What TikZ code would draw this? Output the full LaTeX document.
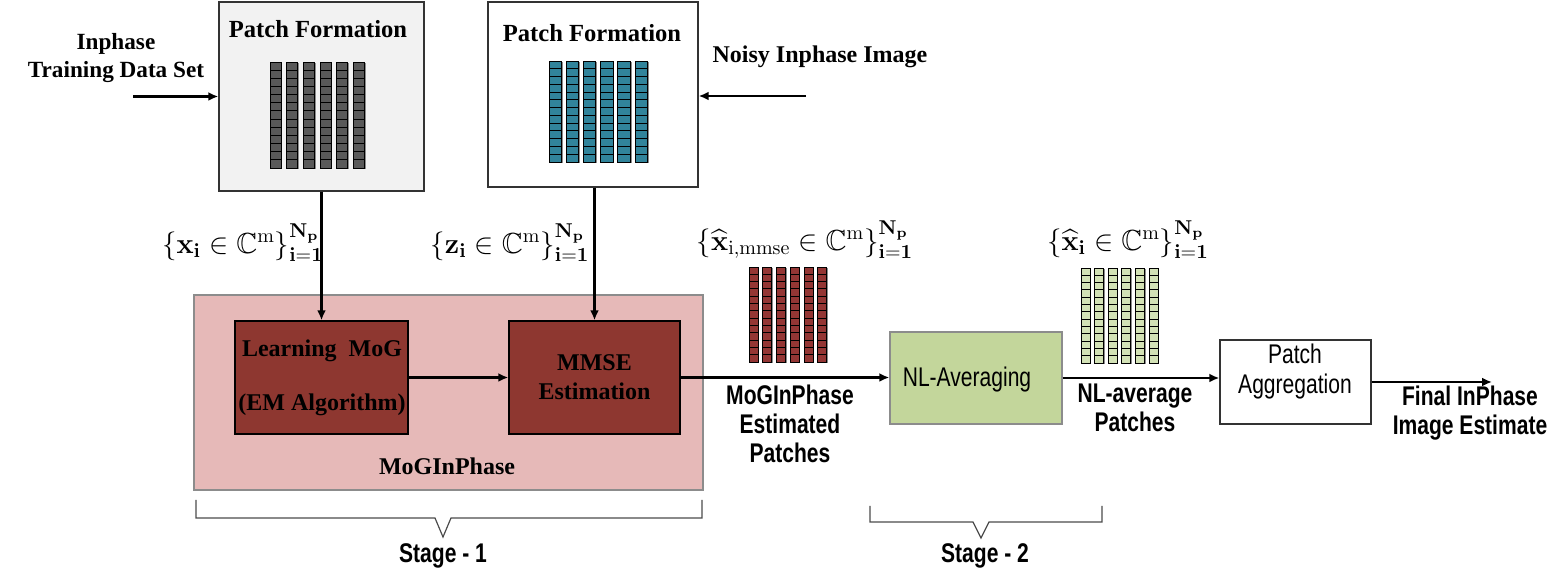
\documentclass[tikz,border=0pt]{standalone}
\usepackage{amsmath,amssymb}
\usepackage[no-math]{fontspec}
\setmainfont{Liberation Serif}
\newfontfamily\narrowfont[FakeStretch=0.78]{Liberation Sans}
\usetikzlibrary{arrows.meta}
\definecolor{boxgray}{HTML}{F2F2F2}
\definecolor{patchgray}{HTML}{595959}
\definecolor{patchteal}{HTML}{31849B}
\definecolor{pinkbg}{HTML}{E6B9B8}
\definecolor{darkred}{HTML}{8E3730}
\definecolor{patchred}{HTML}{943634}
\definecolor{nlgreen}{HTML}{C3D69B}
\definecolor{patchgreen}{HTML}{D3E2B6}
\newcommand{\patchcols}[7]{%
  \foreach \c in {0,...,5}{%
    \pgfmathsetmacro{\xa}{#1+\c*#4}%
    \pgfmathsetmacro{\xb}{\xa+#3}%
    \fill[black!45] (\xa+1.2,#2+1.2) rectangle (\xb+1.2,#2+#5+1.2);
    \draw[fill=#7,line width=0.45pt] (\xa,#2) rectangle (\xb,#2+#5);
    \foreach \r in {1,...,#6}{%
      \draw[line width=0.45pt] (\xa,{#2+\r*#5/(#6+1)}) -- (\xb,{#2+\r*#5/(#6+1)});
    }%
  }%
}
\begin{document}
\begin{tikzpicture}[x=0.5pt,y=-0.5pt,
  serif/.style={font=\fontsize{12}{14.5}\selectfont\bfseries, align=center, inner sep=0pt},
  narrow/.style={font=\fontsize{13.5}{14.5}\selectfont\narrowfont\bfseries, align=center, inner sep=0pt},
  narrowreg/.style={font=\fontsize{13.5}{14.5}\selectfont\narrowfont, align=center, inner sep=0pt},
  mathlab/.style={font=\fontsize{14.5}{16}\selectfont, inner sep=0pt},
  arr/.style={-{Latex[length=5pt,width=4.5pt]}, line width=1.1pt},
  boxd/.style={draw=black!80, line width=0.7pt, inner sep=0pt},
  bracestyle/.style={draw=black!70, line width=0.6pt}]
\useasboundingbox (0,0) rectangle (1565,582);

% Patch formation boxes
\node[boxd, fill=boxgray, minimum width=102.5pt, minimum height=94.5pt] (box1) at (321.5,96.5) {};
\node[boxd, fill=white, minimum width=105pt, minimum height=92.5pt] (box2) at (593,94.5) {};
\node[serif, font=\fontsize{12.3}{14.5}\selectfont\bfseries] (pf1) at (318,29) {Patch Formation};
\node[serif, font=\fontsize{12.3}{14.5}\selectfont\bfseries] (pf2) at (592,33) {Patch Formation};
\patchcols{270}{62}{11}{16.7}{106}{12}{patchgray}
\patchcols{549}{61}{12.5}{17.2}{101}{12}{patchteal}

% inputs
\node[serif, font=\fontsize{11.6}{14}\selectfont\bfseries] (intrain) at (116,58) {Inphase\\Training Data Set};
\coordinate (in1) at (133,96.5);
\draw[arr] (in1) -- (box1.west);
\node[serif] (noisy) at (820,57) {Noisy Inphase Image};
\coordinate (in2) at (806,96);
\draw[arr] (in2) -- (in2 -| box2.east);

% MoGInPhase block
\node[draw=black!45, line width=0.7pt, fill=pinkbg, minimum width=254.5pt, minimum height=97.5pt, inner sep=0pt] (mog) at (448.5,392.5) {};
\node[boxd, draw=black, fill=darkred, minimum width=86.5pt, minimum height=56.5pt] (learn) at (321.5,377.5) {};
\node[serif] (learnt1) at (322,351) {Learning\ \ MoG};
\node[serif] (learnt2) at (322,405) {(EM Algorithm)};
\node[boxd, draw=black, fill=darkred, minimum width=85.5pt, minimum height=56.5pt, serif] (mmse) at (594.5,377.5) {MMSE\\Estimation};
\node[serif] (mogt) at (447,466) {MoGInPhase};

\draw[arr] (learn.north |- box1.south) -- (learn.north);
\draw[arr] (mmse.north |- box2.south) -- (mmse.north);
\draw[arr] (learn.east) -- (mmse.west);

% labels
\node[mathlab] (lx) at (243,243) {$\left\{\mathbf{x}_{\mathbf{i}}\in\mathbb{C}^{\mathrm{m}}\right\}_{\mathbf{i=1}}^{\mathbf{N_p}}$};
\node[mathlab] (lz) at (510,243) {$\left\{\mathbf{z}_{\mathbf{i}}\in\mathbb{C}^{\mathrm{m}}\right\}_{\mathbf{i=1}}^{\mathbf{N_p}}$};
\node[mathlab] (lxm) at (805,240) {$\left\{\widehat{\mathbf{x}}_{\mathrm{i,mmse}}\in\mathbb{C}^{\mathrm{m}}\right\}_{\mathbf{i=1}}^{\mathbf{N_p}}$};
\node[mathlab] (lxh) at (1128,240) {$\left\{\widehat{\mathbf{x}}_{\mathbf{i}}\in\mathbb{C}^{\mathrm{m}}\right\}_{\mathbf{i=1}}^{\mathbf{N_p}}$};

\patchcols{749}{267}{9}{13.75}{95}{12}{patchred}
\patchcols{1081}{268}{9}{13.6}{95}{12}{patchgreen}

% Stage 2 blocks
\node[draw=black!45, line width=0.7pt, fill=nlgreen, minimum width=86pt, minimum height=46pt, inner sep=0pt] (nla) at (976,378) {};
\node[narrowreg] (nlat) at (967,380) {NL-Averaging};
\node[boxd, fill=white, minimum width=75.5pt, minimum height=42pt] (agg) at (1295.5,382) {};
\node[narrowreg] (aggt) at (1295,372) {Patch\\[0.5pt]Aggregation};

\draw[arr] (mmse.east) -- (mmse.east -| nla.west);
\draw[arr] (nla.east) -- (nla.east -| agg.west);
\coordinate (out) at (1492,382);
\draw[arr] (agg.east) -- (out);

\node[narrow] (mest) at (790,424) {MoGInPhase\\Estimated\\Patches};
\node[narrow] (nlp) at (1135,408) {NL-average\\Patches};
\node[narrow] (fin) at (1470,413) {Final InPhase\\Image Estimate};

% braces
\draw[bracestyle] (196,500) -- (196,518) -- (435,518) -- (443,537) -- (451,518) -- (702,518) -- (702,500);
\draw[bracestyle] (870,506) -- (870,522) -- (973,522) -- (981,538) -- (989,522) -- (1102,522) -- (1102,506);
\node[narrow] (s1) at (443,556) {Stage - 1};
\node[narrow] (s2) at (985,556) {Stage - 2};
\end{tikzpicture}
\end{document}
